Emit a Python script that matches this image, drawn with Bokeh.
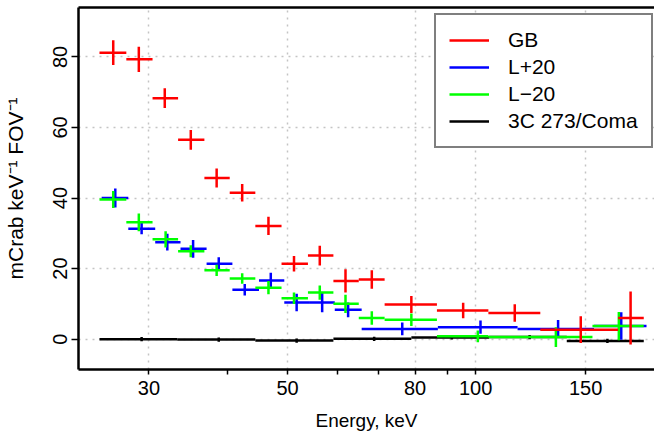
from bokeh.plotting import figure
from bokeh.models import (FixedTicker, LogAxis, Legend, LegendItem,
                          ColumnDataSource, Range1d)
from bokeh.embed import file_html
from bokeh.resources import INLINE

# ---- data (energy in keV, flux in mCrab keV^-1 FOV^-1) ----
gb_e = [26.3, 28.9, 31.8, 35.0, 38.5, 42.3, 46.6, 51.2, 56.3, 61.9, 68.2, 78.9, 95.5, 115.5, 147.3, 177.0]
gb_lo = [25.0, 27.6, 30.4, 33.4, 36.8, 40.4, 44.4, 48.9, 53.9, 59.2, 65.0, 71.5, 86.7, 104.8, 126.9, 169.0]
gb_hi = [27.6, 30.4, 33.4, 36.8, 40.4, 44.4, 48.9, 53.9, 59.2, 65.0, 71.5, 86.7, 104.8, 126.9, 169.0, 185.8]
gb_val = [81.2, 79.3, 68.3, 56.5, 45.7, 41.5, 32.1, 21.4, 23.7, 16.5, 16.9, 9.8, 8.1, 7.4, 2.7, 6.0]
gb_err = [3.5, 3.6, 2.8, 2.8, 2.7, 2.5, 2.6, 2.2, 2.8, 3.3, 2.6, 2.4, 2.2, 2.5, 3.8, 7.5]

lp_e = [26.5, 29.2, 32.1, 35.3, 38.8, 42.7, 47.0, 51.7, 56.8, 62.5, 76.3, 101.8, 135.5, 171.0]
lp_lo = [25.2, 27.8, 30.7, 33.7, 37.1, 40.8, 45.0, 49.4, 54.3, 59.5, 65.7, 87.0, 116.7, 154.7]
lp_hi = [27.8, 30.7, 33.7, 37.1, 40.8, 45.0, 49.4, 54.3, 59.5, 65.7, 87.0, 116.7, 154.7, 187.7]
lp_val = [40.0, 31.3, 27.5, 25.6, 21.4, 14.0, 16.6, 10.4, 10.4, 8.3, 2.9, 3.4, 2.9, 3.7]
lp_err = [2.7, 1.6, 2.4, 2.5, 1.8, 1.65, 2.2, 2.5, 2.8, 2.1, 1.8, 1.9, 2.5, 3.9]

lm_e = [26.3, 28.9, 31.9, 35.0, 38.5, 42.3, 46.6, 51.2, 56.3, 61.9, 68.2, 78.9, 100.8, 134.4, 169.5]
lm_lo = [25.0, 27.6, 30.4, 33.4, 36.8, 40.4, 44.4, 48.9, 53.9, 59.2, 65.0, 71.5, 86.7, 104.8, 153.8]
lm_hi = [27.6, 30.4, 33.4, 36.8, 40.4, 44.4, 48.9, 53.9, 59.2, 65.0, 71.5, 86.7, 104.8, 153.8, 185.8]
lm_val = [39.6, 33.1, 28.3, 24.9, 19.5, 17.2, 14.6, 11.6, 13.2, 10.0, 6.0, 5.5, 0.8, 0.6, 3.7]
lm_err = [2.4, 2.5, 2.3, 1.7, 1.6, 1.5, 1.9, 1.65, 2.0, 2.6, 1.9, 1.75, 1.65, 2.8, 4.0]

cal_e = [29.2, 38.8, 51.7, 68.8, 91.6, 122.0, 162.5]
cal_lo = [25.0, 33.3, 44.4, 59.2, 78.9, 105.1, 139.9]
cal_hi = [33.3, 44.4, 59.2, 78.9, 105.1, 139.9, 185.8]
cal_val = [0.0, -0.1, -0.4, 0.1, 0.5, 0.6, -0.5]
cal_err = [0.6, 0.6, 0.6, 0.6, 0.6, 0.6, 0.6]

x_ticks = [30, 40, 50, 60, 70, 80, 90, 100, 150]
x_labeled = [30, 50, 80, 100, 150]
y_ticks = [0, 20, 40, 60, 80]

FONT = "Liberation Sans"

p = figure(width=654, height=436, x_axis_type="log",
           x_range=Range1d(23.14, 193.3), y_range=Range1d(-8.6, 94.0),
           output_backend="svg", toolbar_location=None,
           min_border_left=76, min_border_right=0, min_border_top=7,
           min_border_bottom=67)
p.outline_line_color = None
p.background_fill_color = "white"
p.border_fill_color = "white"

# grid
p.xgrid.ticker = FixedTicker(ticks=x_labeled)
p.ygrid.ticker = FixedTicker(ticks=y_ticks)
for g in (p.xgrid, p.ygrid):
    g.grid_line_color = "#c4c4c4"
    g.grid_line_dash = "2 5"
    g.grid_line_width = 1.5

# x axis
xa = p.xaxis[0]
xa.ticker = FixedTicker(ticks=x_ticks, minor_ticks=[])
xa.major_label_overrides = {40: "", 60: "", 70: "", 90: ""}
xa.axis_label = "Energy, keV"
# y axis
ya = p.yaxis[0]
ya.ticker = FixedTicker(ticks=y_ticks, minor_ticks=[])
ya.axis_label = "mCrab keV\u207b\u00b9 FOV\u207b\u00b9"
ya.major_label_orientation = "vertical"

for ax in (xa, ya):
    ax.axis_line_width = 2.5
    ax.axis_line_color = "black"
    ax.major_tick_line_width = 1.5
    ax.major_tick_in = 0
    ax.minor_tick_out = 0
    ax.minor_tick_in = 0
    ax.major_label_text_font = FONT
    ax.major_label_text_font_size = "20px"
    ax.major_label_text_color = "black"
    ax.axis_label_text_font = FONT
    ax.axis_label_text_font_style = "normal"
    ax.axis_label_text_color = "black"
xa.axis_label_text_font_size = "19px"
ya.axis_label_text_font_size = "21px"
xa.major_tick_out = 5
xa.major_label_standoff = 6
xa.axis_label_standoff = 12
ya.major_tick_out = 7
ya.major_label_standoff = 4
ya.axis_label_standoff = 24

# top frame line
top = LogAxis(ticker=FixedTicker(ticks=[]), major_label_text_font_size="0px",
              major_tick_out=0, major_tick_in=0, minor_tick_out=0, minor_tick_in=0,
              major_label_standoff=0, axis_line_width=2.5, axis_line_color="black")
p.add_layout(top, "above")


def add_series(e, lo, hi, val, err, color):
    src = ColumnDataSource(dict(
        e=e, lo=lo, hi=hi, val=val,
        ylo=[v - s for v, s in zip(val, err)],
        yhi=[v + s for v, s in zip(val, err)]))
    h = p.segment(x0="lo", x1="hi", y0="val", y1="val", source=src,
                  line_color=color, line_width=2.5)
    p.segment(x0="e", x1="e", y0="ylo", y1="yhi", source=src,
              line_color=color, line_width=2.5)
    return h


r_cal = add_series(cal_e, cal_lo, cal_hi, cal_val, cal_err, "black")
r_lp = add_series(lp_e, lp_lo, lp_hi, lp_val, lp_err, "#0000ff")
r_lm = add_series(lm_e, lm_lo, lm_hi, lm_val, lm_err, "#00ff00")
r_gb = add_series(gb_e, gb_lo, gb_hi, gb_val, gb_err, "#ff0000")

legend = Legend(items=[
    LegendItem(label="GB", renderers=[r_gb]),
    LegendItem(label="L+20", renderers=[r_lp]),
    LegendItem(label="L\u221220", renderers=[r_lm]),
    LegendItem(label="3C 273/Coma", renderers=[r_cal]),
], location=(356, 221))
legend.label_text_font = FONT
legend.label_text_font_size = "21px"
legend.label_text_color = "black"
legend.glyph_width = 40
legend.glyph_height = 22
legend.label_height = 22
legend.label_standoff = 19
legend.padding = 13
legend.spacing = 3
legend.margin = 0
legend.border_line_color = "black"
legend.border_line_width = 2
legend.background_fill_alpha = 1.0
p.add_layout(legend, "center")

open("out.html", "w").write(file_html(p, INLINE))
